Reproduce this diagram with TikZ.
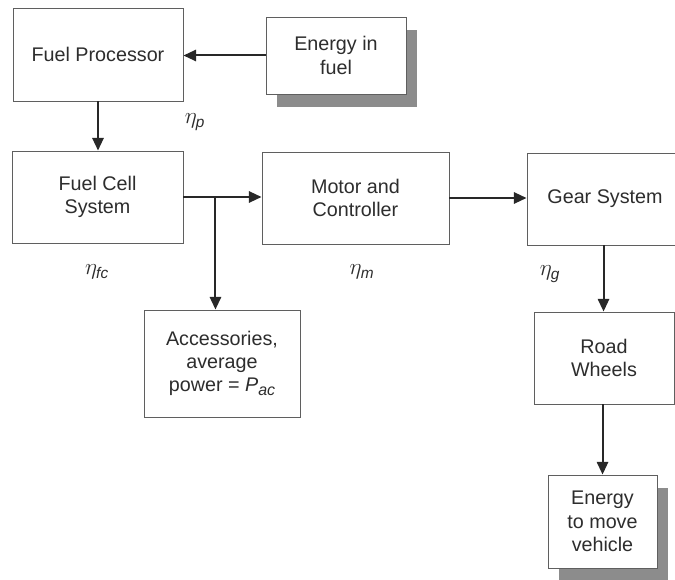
\documentclass[tikz,border=0pt]{standalone}
\usepackage{fontspec}
\usepackage{amsmath}
\setmainfont{Liberation Sans}
\usepackage{xcolor}
\usetikzlibrary{
    arrows.meta,
    shadows,
    positioning,
    calc
  }
\definecolor{textcolor}{RGB}{45,45,45}
\definecolor{boxcolor}{RGB}{95,95,95}
\definecolor{shadowcolor}{RGB}{140,140,140}
\definecolor{flowcolor}{RGB}{40,40,40}
\tikzset{
  block/.style={
    draw=boxcolor, line width=0.7pt, fill=white, text=textcolor,
    align=center, inner sep=0pt,
    font=\fontsize{14.8}{17.5}\selectfont
  },
  shadowed/.style={
    drop shadow={shadow xshift=8pt, shadow yshift=-9.75pt,
      fill=shadowcolor, opacity=1}
  },
  flow/.style={
    draw=flowcolor, line width=1.5pt,
    -{Triangle[length=9.5pt,width=8.5pt]}
  },
  eff/.style={
    text=textcolor, font=\fontsize{16.5}{18}\selectfont
  }
}
\newcommand{\effsub}[1]{\text{\itshape #1}}

\begin{document}
\begin{tikzpicture}[x=0.75pt, y=-0.75pt]

\useasboundingbox (0,0) rectangle (675,580);

\begin{scope}
\clip (0,0) rectangle (675,580);

% top row
\path[]
  (98,54.5) node[block, minimum width=127.5pt, minimum height=69.75pt] (fp) {Fuel Processor}
;
\path[]
  (336,55.5) node[block, shadowed, minimum width=105pt, minimum height=57.75pt] (eif) {Energy in\\fuel}
;

% middle row
\path[]
  (97.5,197) node[block, minimum width=128.25pt, minimum height=69pt] (fcs) {Fuel Cell\\System}
;
\path[]
  (355.5,198) node[block, minimum width=140.25pt, minimum height=69pt] (mc) {Motor and\\Controller}
;
\path[]
  (605,199) node[block, minimum width=117pt, minimum height=69pt] (gs) {Gear System}
;

% lower boxes
\path[]
  (222,363.5) node[block, minimum width=117pt, minimum height=80.25pt] (acc) {Accessories,\\average\\power = \textit{P}\raisebox{-0.35ex}{\fontsize{12}{12}\selectfont\textit{ac}}}
;
\path[]
  (604,358) node[block, minimum width=105pt, minimum height=69pt] (rw) {Road\\Wheels}
;
\path[]
  (602.5,521.5) node[block, shadowed, minimum width=81.75pt, minimum height=69.75pt] (etm) {Energy\\to move\\vehicle}
;

% efficiencies
\path[]
  (195,122) node[eff] (etap) {$\eta_{\effsub{p}}$}
  (97,272) node[eff] (etafc) {$\eta_{\effsub{fc}}$}
  (362,272) node[eff] (etam) {$\eta_{\effsub{m}}$}
  (550,274) node[eff] (etag) {$\eta_{\effsub{g}}$}
;

% energy flow
\path[flow] (eif.west) -- (eif.west -| fp.east);
\path[flow] (fp.south) -- (fp.south |- fcs.north);
\path[flow] (fcs.east) -- (fcs.east -| mc.west);
\path[] ($(fcs.east)+(32,0)$) coordinate (branch);
\path[flow] (branch) -- (branch |- acc.north);
\path[flow] (mc.east) -- (mc.east -| gs.west);
\path[flow] ($(gs.south west)+(77,0)$) coordinate (gs_out) -- (gs_out |- rw.north);
\path[flow] ($(rw.south west)+(69,0)$) coordinate (rw_out) -- (rw_out |- etm.north);

\end{scope}

\end{tikzpicture}
\end{document}
